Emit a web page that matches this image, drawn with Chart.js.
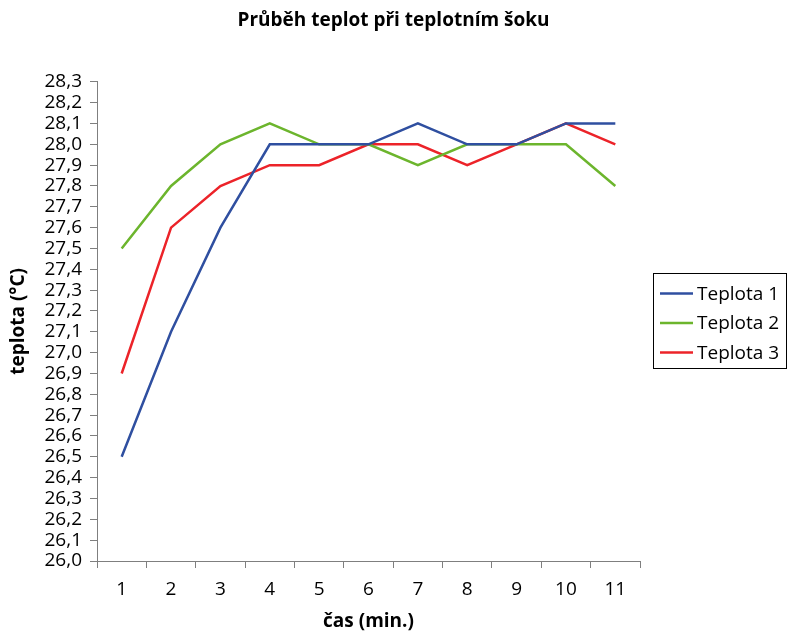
<!DOCTYPE html>
<html>
<head>
<meta charset="utf-8">
<script src="https://cdn.jsdelivr.net/npm/chart.js@4"></script>
<style>
  html, body { margin: 0; padding: 0; background: #fff; }
  #wrap { width: 787px; height: 633px; }
</style>
</head>
<body>
<div id="wrap"><canvas id="tempChart" width="787" height="633"></canvas></div>
<script>
const minutes = ['1', '2', '3', '4', '5', '6', '7', '8', '9', '10', '11'];
const teplota1 = [26.5, 27.1, 27.6, 28.0, 28.0, 28.0, 28.1, 28.0, 28.0, 28.1, 28.1];
const teplota2 = [27.5, 27.8, 28.0, 28.1, 28.0, 28.0, 27.9, 28.0, 28.0, 28.0, 27.8];
const teplota3 = [26.9, 27.6, 27.8, 27.9, 27.9, 28.0, 28.0, 27.9, 28.0, 28.1, 28.0];
const seriesNames = ['Teplota 1', 'Teplota 2', 'Teplota 3'];
const seriesColors = ['#2f4fa0', '#6cb52d', '#ec2329'];

const fontFamily = '"Open Sans", "Noto Sans", sans-serif';
const axisColor = '#7f7f7f';

// legend drawn as a framed box to the right of the plot
const boxLegend = {
  id: 'boxLegend',
  afterDraw(chart) {
    const ctx = chart.ctx;
    const x = chart.chartArea.right + 13;
    const y = 273, w = 133, h = 95;
    ctx.save();
    ctx.strokeStyle = '#000';
    ctx.lineWidth = 1;
    ctx.strokeRect(x + 0.5, y + 0.5, w, h);
    ctx.font = '19px ' + fontFamily;
    ctx.textBaseline = 'middle';
    ctx.fillStyle = '#000';
    chart.data.datasets.forEach((ds, i) => {
      const cy = y + 20.5 + i * 29.5;
      ctx.strokeStyle = ds.borderColor;
      ctx.lineWidth = 2.5;
      ctx.beginPath();
      ctx.moveTo(x + 7, cy);
      ctx.lineTo(x + 40, cy);
      ctx.stroke();
      ctx.fillText(ds.label, x + 44, cy + 1);
    });
    ctx.restore();
  }
};

const datasets = [teplota1, teplota2, teplota3].map((values, i) => ({
  label: seriesNames[i],
  data: values,
  borderColor: seriesColors[i],
  backgroundColor: seriesColors[i],
  borderWidth: 2.5,
  pointRadius: 0,
  tension: 0,
  fill: false
}));

new Chart(document.getElementById('tempChart').getContext('2d'), {
  type: 'line',
  data: { labels: minutes, datasets },
  options: {
    responsive: false,
    animation: false,
    layout: { padding: { top: 0, left: 0, right: 0, bottom: 0 } },
    plugins: {
      legend: { display: false },
      tooltip: { enabled: false },
      title: {
        display: true,
        text: 'Průběh teplot při teplotním šoku',
        color: '#000',
        font: { family: fontFamily, size: 19, weight: 'bold' },
        padding: { top: 9, bottom: 50 }
      }
    },
    scales: {
      x: {
        offset: true,
        grid: { offset: true, drawOnChartArea: false, color: axisColor, tickLength: 7, tickColor: axisColor },
        border: { display: true, color: axisColor, width: 1 },
        ticks: { color: '#000', font: { family: fontFamily, size: 19 }, padding: 10, maxRotation: 0 },
        title: { display: true, text: 'čas (min.)', color: '#000', font: { family: fontFamily, size: 19, weight: 'bold' }, padding: { top: 0, bottom: 0 } },
        afterFit: (scale) => { scale.height = 72; }
      },
      y: {
        min: 26.0,
        max: 28.3,
        grid: { drawOnChartArea: false, color: axisColor, tickLength: 7, tickColor: axisColor },
        border: { display: true, color: axisColor, width: 1 },
        ticks: {
          stepSize: 0.1,
          autoSkip: false,
          color: '#000',
          font: { family: fontFamily, size: 19 },
          padding: 8,
          callback: (v) => v.toFixed(1).replace('.', ',')
        },
        title: { display: true, text: 'teplota (°C)', color: '#000', font: { family: fontFamily, size: 19, weight: 'bold' }, padding: { top: 7, bottom: 0 } },
        afterFit: (scale) => { scale.width = 97; }
      },
      spacer: {
        type: 'linear',
        position: 'right',
        grid: { display: false },
        border: { display: false },
        ticks: { display: false },
        afterFit: (scale) => { scale.width = 147; }
      }
    }
  },
  plugins: [boxLegend]
});
</script>
</body>
</html>
